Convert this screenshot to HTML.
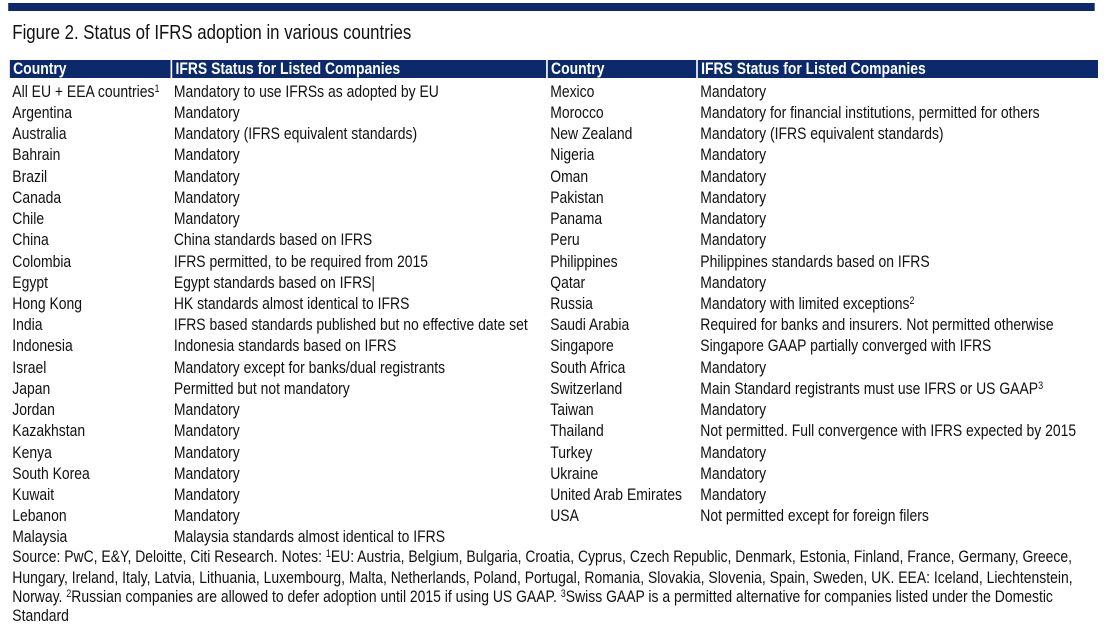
<!DOCTYPE html>
<html><head><meta charset="utf-8"><style>
html,body{margin:0;padding:0;background:#fff;width:1113px;height:622px;overflow:hidden}
#wrap{position:absolute;left:0;top:0;width:1357px;height:622px;transform:scaleX(0.82);transform-origin:0 0;font-family:"Liberation Sans",Arial,sans-serif;color:#111}
.bar{position:absolute;left:10px;top:3px;width:1325px;height:8px;background:#0c2a6b}
.title{position:absolute;left:15px;top:21px;font-size:20.5px;white-space:nowrap}
.hd{position:absolute;top:60px;height:18px;background:#0c2a6b;color:#fff;font-weight:bold;font-size:17px;line-height:18px;padding-left:4px;box-sizing:border-box;white-space:nowrap}
.r{position:absolute;font-size:17px;line-height:18px;white-space:nowrap;margin-top:1px}
.c1{left:15px}.c2{left:212px}.c3{left:671px}.c4{left:854px}
sup{font-size:11px;vertical-align:5px;line-height:0}
.fn{position:absolute;left:15px;font-size:17px;line-height:18px;white-space:nowrap;margin-top:2px}
</style></head><body>
<div id="wrap">
<div class="bar"></div>
<div class="title">Figure 2. Status of IFRS adoption in various countries</div>
<div class="hd" style="left:12px;width:196px">Country</div>
<div class="hd" style="left:210px;width:456px">IFRS Status for Listed Companies</div>
<div class="hd" style="left:668px;width:181px">Country</div>
<div class="hd" style="left:851px;width:488px">IFRS Status for Listed Companies</div>

<div>
<div class="r c1" style="top:82px">All EU + EEA countries<sup>1</sup></div><div class="r c2" style="top:82px">Mandatory to use IFRSs as adopted by EU</div>
<div class="r c1" style="top:103px">Argentina</div><div class="r c2" style="top:103px">Mandatory</div>
<div class="r c1" style="top:124px">Australia</div><div class="r c2" style="top:124px">Mandatory (IFRS equivalent standards)</div>
<div class="r c1" style="top:145px">Bahrain</div><div class="r c2" style="top:145px">Mandatory</div>
<div class="r c1" style="top:167px">Brazil</div><div class="r c2" style="top:167px">Mandatory</div>
<div class="r c1" style="top:188px">Canada</div><div class="r c2" style="top:188px">Mandatory</div>
<div class="r c1" style="top:209px">Chile</div><div class="r c2" style="top:209px">Mandatory</div>
<div class="r c1" style="top:230px">China</div><div class="r c2" style="top:230px">China standards based on IFRS</div>
<div class="r c1" style="top:252px">Colombia</div><div class="r c2" style="top:252px">IFRS permitted, to be required from 2015</div>
<div class="r c1" style="top:273px">Egypt</div><div class="r c2" style="top:273px">Egypt standards based on IFRS|</div>
<div class="r c1" style="top:294px">Hong Kong</div><div class="r c2" style="top:294px">HK standards almost identical to IFRS</div>
<div class="r c1" style="top:315px">India</div><div class="r c2" style="top:315px">IFRS based standards published but no effective date set</div>
<div class="r c1" style="top:336px">Indonesia</div><div class="r c2" style="top:336px">Indonesia standards based on IFRS</div>
<div class="r c1" style="top:358px">Israel</div><div class="r c2" style="top:358px">Mandatory except for banks/dual registrants</div>
<div class="r c1" style="top:379px">Japan</div><div class="r c2" style="top:379px">Permitted but not mandatory</div>
<div class="r c1" style="top:400px">Jordan</div><div class="r c2" style="top:400px">Mandatory</div>
<div class="r c1" style="top:421px">Kazakhstan</div><div class="r c2" style="top:421px">Mandatory</div>
<div class="r c1" style="top:443px">Kenya</div><div class="r c2" style="top:443px">Mandatory</div>
<div class="r c1" style="top:464px">South Korea</div><div class="r c2" style="top:464px">Mandatory</div>
<div class="r c1" style="top:485px">Kuwait</div><div class="r c2" style="top:485px">Mandatory</div>
<div class="r c1" style="top:506px">Lebanon</div><div class="r c2" style="top:506px">Mandatory</div>
<div class="r c1" style="top:527px">Malaysia</div><div class="r c2" style="top:527px">Malaysia standards almost identical to IFRS</div>
</div>
<div>
<div class="r c3" style="top:82px">Mexico</div><div class="r c4" style="top:82px">Mandatory</div>
<div class="r c3" style="top:103px">Morocco</div><div class="r c4" style="top:103px">Mandatory for financial institutions, permitted for others</div>
<div class="r c3" style="top:124px">New Zealand</div><div class="r c4" style="top:124px">Mandatory (IFRS equivalent standards)</div>
<div class="r c3" style="top:145px">Nigeria</div><div class="r c4" style="top:145px">Mandatory</div>
<div class="r c3" style="top:167px">Oman</div><div class="r c4" style="top:167px">Mandatory</div>
<div class="r c3" style="top:188px">Pakistan</div><div class="r c4" style="top:188px">Mandatory</div>
<div class="r c3" style="top:209px">Panama</div><div class="r c4" style="top:209px">Mandatory</div>
<div class="r c3" style="top:230px">Peru</div><div class="r c4" style="top:230px">Mandatory</div>
<div class="r c3" style="top:252px">Philippines</div><div class="r c4" style="top:252px">Philippines standards based on IFRS</div>
<div class="r c3" style="top:273px">Qatar</div><div class="r c4" style="top:273px">Mandatory</div>
<div class="r c3" style="top:294px">Russia</div><div class="r c4" style="top:294px">Mandatory with limited exceptions<sup>2</sup></div>
<div class="r c3" style="top:315px">Saudi Arabia</div><div class="r c4" style="top:315px">Required for banks and insurers. Not permitted otherwise</div>
<div class="r c3" style="top:336px">Singapore</div><div class="r c4" style="top:336px">Singapore GAAP partially converged with IFRS</div>
<div class="r c3" style="top:358px">South Africa</div><div class="r c4" style="top:358px">Mandatory</div>
<div class="r c3" style="top:379px">Switzerland</div><div class="r c4" style="top:379px">Main Standard registrants must use IFRS or US GAAP<sup>3</sup></div>
<div class="r c3" style="top:400px">Taiwan</div><div class="r c4" style="top:400px">Mandatory</div>
<div class="r c3" style="top:421px">Thailand</div><div class="r c4" style="top:421px">Not permitted. Full convergence with IFRS expected by 2015</div>
<div class="r c3" style="top:443px">Turkey</div><div class="r c4" style="top:443px">Mandatory</div>
<div class="r c3" style="top:464px">Ukraine</div><div class="r c4" style="top:464px">Mandatory</div>
<div class="r c3" style="top:485px">United Arab Emirates</div><div class="r c4" style="top:485px">Mandatory</div>
<div class="r c3" style="top:506px">USA</div><div class="r c4" style="top:506px">Not permitted except for foreign filers</div>
</div>
<div>
<div class="fn" style="top:546px">Source: PwC, E&amp;Y, Deloitte, Citi Research. Notes: <sup>1</sup>EU: Austria, Belgium, Bulgaria, Croatia, Cyprus, Czech Republic, Denmark, Estonia, Finland, France, Germany, Greece,</div>
<div class="fn" style="top:567px">Hungary, Ireland, Italy, Latvia, Lithuania, Luxembourg, Malta, Netherlands, Poland, Portugal, Romania, Slovakia, Slovenia, Spain, Sweden, UK. EEA: Iceland, Liechtenstein,</div>
<div class="fn" style="top:586px">Norway. <sup>2</sup>Russian companies are allowed to defer adoption until 2015 if using US GAAP. <sup>3</sup>Swiss GAAP is a permitted alternative for companies listed under the Domestic</div>
<div class="fn" style="top:605px">Standard</div>
</div>
</div>
</body></html>
